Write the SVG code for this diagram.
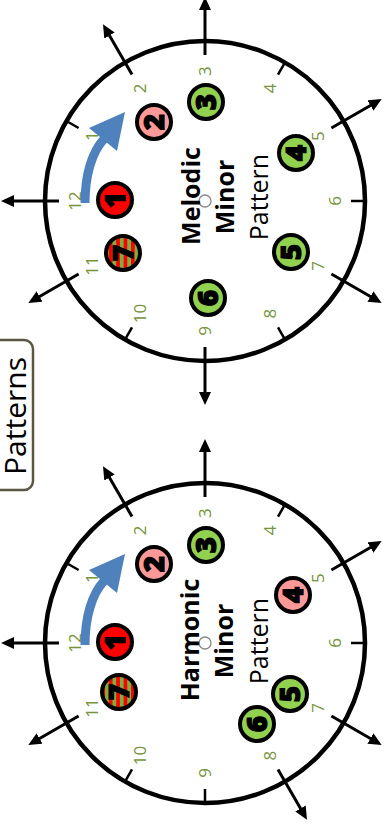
<svg xmlns="http://www.w3.org/2000/svg" width="385" height="825" viewBox="0 0 385 825">
<defs>
<style>
.rim{fill:none;stroke:#000;stroke-width:4.5}
.tick{stroke:#000;stroke-width:2.5}
.arr{stroke:#000;stroke-width:3;marker-end:url(#ah)}
.lbl{font-family:"Open Sans","DejaVu Sans",sans-serif;font-size:17px;fill:#77933C;text-anchor:middle}
.note{stroke:#000;stroke-width:4}
.num{font-family:"Open Sans","DejaVu Sans",sans-serif;font-size:28px;font-weight:900;fill:#000;stroke:#000;stroke-width:1;text-anchor:middle}
.title{font-family:"Open Sans","DejaVu Sans",sans-serif;font-size:25px;fill:#000;text-anchor:middle}
.b{font-weight:bold}
.red{fill:#FF0000}.pink{fill:#FF9999}.green{fill:#92D050}.stripe{fill:url(#st)}
.hub{fill:#fff;stroke:#888;stroke-width:1.3}
.blue{fill:none;stroke:#4F81BD;stroke-width:9}
.bluehead{fill:#4F81BD}
</style>
<marker id="ah" markerUnits="userSpaceOnUse" markerWidth="14" markerHeight="12" refX="3" refY="6" orient="auto">
<path d="M0,0 L13,6 L0,12 z" fill="#000"/>
</marker>
<pattern id="st" patternUnits="userSpaceOnUse" width="10" height="7.4">
<rect x="0" y="0" width="10" height="3.7" fill="#FF0000"/>
<rect x="0" y="3.7" width="10" height="3.7" fill="#7AB040"/>
</pattern>
</defs>

<g id="patterns-label">
<rect x="-12" y="340" width="45" height="150" rx="9" fill="#fff" stroke="#5B5642" stroke-width="2.5"/>
<text transform="translate(26,416) rotate(-90)" style="font-family:'Open Sans','DejaVu Sans',sans-serif;font-size:30px;text-anchor:middle;fill:#000">Patterns</text>
</g>

<g id="melodic-dial">
<g transform="translate(205,201) rotate(-90)">
<circle class="rim" cx="0" cy="0" r="160"/>
<g id="melodic-spokes">
<line class="arr" x1="0" y1="-146" x2="0" y2="-194"/>
<line class="tick" x1="73" y1="-126.4" x2="80" y2="-138.6"/>
<line class="arr" x1="126.4" y1="-73" x2="168" y2="-97"/>
<line class="arr" x1="146" y1="0" x2="194" y2="0"/>
<line class="tick" x1="126.4" y1="73" x2="138.6" y2="80"/>
<line class="arr" x1="73" y1="126.4" x2="97" y2="168"/>
<line class="tick" x1="0" y1="146" x2="0" y2="160"/>
<line class="arr" x1="-73" y1="126.4" x2="-97" y2="168"/>
<line class="tick" x1="-126.4" y1="73" x2="-138.6" y2="80"/>
<line class="arr" x1="-146" y1="0" x2="-194" y2="0"/>
<line class="tick" x1="-126.4" y1="-73" x2="-138.6" y2="-80"/>
<line class="arr" x1="-73" y1="-126.4" x2="-97" y2="-168"/>
</g>
<g id="melodic-hours">
<text class="lbl" x="0" y="-124">12</text>
<text class="lbl" x="65" y="-106.6">1</text>
<text class="lbl" x="112.6" y="-59">2</text>
<text class="lbl" x="130" y="6">3</text>
<text class="lbl" x="112.6" y="71">4</text>
<text class="lbl" x="65" y="118.6">5</text>
<text class="lbl" x="0" y="136">6</text>
<text class="lbl" x="-65" y="118.6">7</text>
<text class="lbl" x="-112.6" y="71">8</text>
<text class="lbl" x="-130" y="6">9</text>
<text class="lbl" x="-112.6" y="-59">10</text>
<text class="lbl" x="-65" y="-106.6">11</text>
</g>
<circle class="hub" cx="0" cy="0" r="6"/>
<g id="melodic-title">
<text class="title b" x="5" y="-5">Melodic</text>
<text class="title b" x="4" y="29">Minor</text>
<text class="title" x="4" y="63">Pattern</text>
</g>
<g id="mm-note1"><circle class="note red" cx="1" cy="-90" r="17"/><text class="num" x="1" y="-80">1</text></g>
<g id="mm-note2"><circle class="note pink" cx="79" cy="-51" r="17"/><text class="num" x="79" y="-41">2</text></g>
<g id="mm-note3"><circle class="note green" cx="99" cy="1" r="17"/><text class="num" x="99" y="11">3</text></g>
<g id="mm-note4"><circle class="note green" cx="48" cy="91" r="17"/><text class="num" x="48" y="101">4</text></g>
<g id="mm-note5"><circle class="note green" cx="-51" cy="86" r="17"/><text class="num" x="-51" y="96">5</text></g>
<g id="mm-note6"><circle class="note green" cx="-97" cy="3" r="17"/><text class="num" x="-97" y="13">6</text></g>
<g id="mm-note7"><circle class="note stripe" cx="-52" cy="-82" r="17"/><text class="num" x="-52" y="-72">7</text></g>
</g>
<g id="melodic-step-arrow">
<path class="blue" d="M85,203 C85,175 92,152 104,139"/>
<polygon class="bluehead" points="89,128 125,112 117,151"/>
</g>
</g>

<g id="harmonic-dial">
<g transform="translate(205,643) rotate(-90)">
<circle class="rim" cx="0" cy="0" r="160"/>
<g id="harmonic-spokes">
<line class="arr" x1="0" y1="-146" x2="0" y2="-194"/>
<line class="tick" x1="73" y1="-126.4" x2="80" y2="-138.6"/>
<line class="arr" x1="126.4" y1="-73" x2="168" y2="-97"/>
<line class="arr" x1="146" y1="0" x2="194" y2="0"/>
<line class="tick" x1="126.4" y1="73" x2="138.6" y2="80"/>
<line class="arr" x1="73" y1="126.4" x2="97" y2="168"/>
<line class="tick" x1="0" y1="146" x2="0" y2="160"/>
<line class="arr" x1="-73" y1="126.4" x2="-97" y2="168"/>
<line class="arr" x1="-126.4" y1="73" x2="-168" y2="97"/>
<line class="tick" x1="-146" y1="0" x2="-160" y2="0"/>
<line class="tick" x1="-126.4" y1="-73" x2="-138.6" y2="-80"/>
<line class="arr" x1="-73" y1="-126.4" x2="-97" y2="-168"/>
</g>
<g id="harmonic-hours">
<text class="lbl" x="0" y="-124">12</text>
<text class="lbl" x="65" y="-106.6">1</text>
<text class="lbl" x="112.6" y="-59">2</text>
<text class="lbl" x="130" y="6">3</text>
<text class="lbl" x="112.6" y="71">4</text>
<text class="lbl" x="65" y="118.6">5</text>
<text class="lbl" x="0" y="136">6</text>
<text class="lbl" x="-65" y="118.6">7</text>
<text class="lbl" x="-112.6" y="71">8</text>
<text class="lbl" x="-130" y="6">9</text>
<text class="lbl" x="-112.6" y="-59">10</text>
<text class="lbl" x="-65" y="-106.6">11</text>
</g>
<circle class="hub" cx="0" cy="0" r="6"/>
<g id="harmonic-title">
<text class="title b" x="3" y="-6">Harmonic</text>
<text class="title b" x="2" y="28">Minor</text>
<text class="title" x="2" y="63">Pattern</text>
</g>
<g id="hm-note1"><circle class="note red" cx="1" cy="-90" r="17"/><text class="num" x="1" y="-80">1</text></g>
<g id="hm-note2"><circle class="note pink" cx="79" cy="-51" r="17"/><text class="num" x="79" y="-41">2</text></g>
<g id="hm-note3"><circle class="note green" cx="98" cy="1" r="17"/><text class="num" x="98" y="11">3</text></g>
<g id="hm-note4"><circle class="note pink" cx="48" cy="88" r="17"/><text class="num" x="48" y="98">4</text></g>
<g id="hm-note5"><circle class="note green" cx="-51" cy="85" r="17"/><text class="num" x="-51" y="95">5</text></g>
<g id="hm-note6"><circle class="note green" cx="-81" cy="52" r="17"/><text class="num" x="-81" y="62">6</text></g>
<g id="hm-note7"><circle class="note stripe" cx="-49" cy="-86" r="17"/><text class="num" x="-49" y="-76">7</text></g>
</g>
<g id="harmonic-step-arrow">
<path class="blue" d="M85,645 C85,617 92,594 104,581"/>
<polygon class="bluehead" points="89,570 125,554 117,593"/>
</g>
</g>
</svg>
